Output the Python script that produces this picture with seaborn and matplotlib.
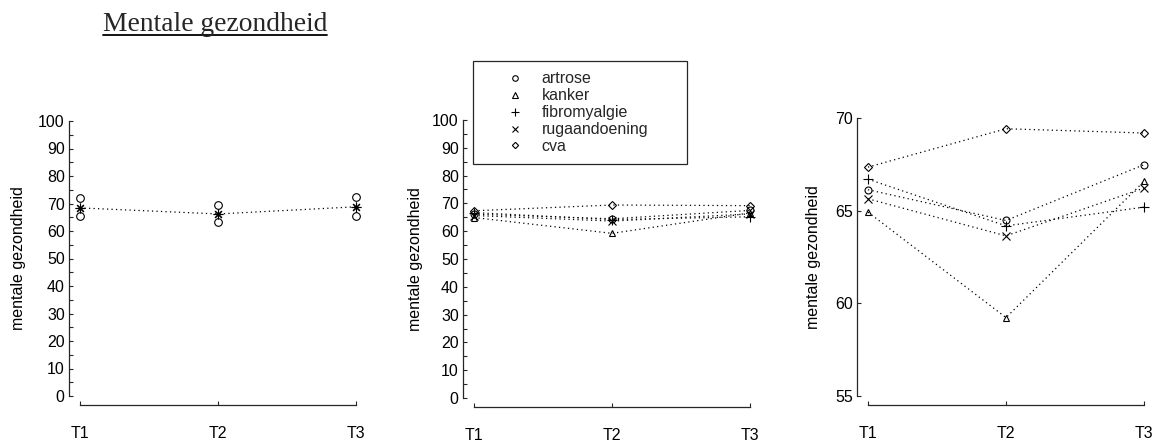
import matplotlib
matplotlib.use("Agg")
import matplotlib.pyplot as plt
import seaborn as sns
import pandas as pd
from matplotlib.lines import Line2D
from matplotlib.ticker import MultipleLocator

# meetmomenten en groepen
tijden = ["T1", "T2", "T3"]
groepen = ["artrose", "kanker", "fibromyalgie", "rugaandoening", "cva"]

artrose = [66.13, 64.47, 67.48]
kanker = [64.92, 59.23, 66.58]
fibromyalgie = [66.70, 64.18, 65.19]
rugaandoening = [65.64, 63.64, 66.22]
cva = [67.35, 69.42, 69.19]

# totale groep: gemiddelde met onder- en bovengrens
totaal_gem = [68.4, 66.2, 68.8]
totaal_onder = [65.6, 63.2, 65.6]
totaal_boven = [71.9, 69.4, 72.3]

markers = {"artrose": "o", "kanker": "^", "fibromyalgie": "+",
           "rugaandoening": "x", "cva": "D"}
msize = {"artrose": 5, "kanker": 5, "fibromyalgie": 6.5,
         "rugaandoening": 6.2, "cva": 4}

reeksen = [artrose, kanker, fibromyalgie, rugaandoening, cva]
df = pd.DataFrame([(g, t, v) for g, r in zip(groepen, reeksen) for t, v in zip(tijden, r)],
                  columns=["groep", "tijd", "score"])
df_tot = pd.DataFrame({"tijd": tijden, "gem": totaal_gem,
                       "onder": totaal_onder, "boven": totaal_boven})

sns.set_style("ticks")
plt.rcParams["font.family"] = ["Liberation Sans", "DejaVu Sans"]
donker = "#262626"

fig = plt.figure(figsize=(11.65, 4.41), dpi=100)
W, H = 1165, 441

def maak_as(x0, y_onder, y_boven):
    return fig.add_axes([x0 / W, (H - y_onder) / H, 276 / W, (y_onder - y_boven) / H])

ax1 = maak_as(80, 396, 121)
ax2 = maak_as(474, 398, 120)
ax3 = maak_as(868, 396, 118)

lijn = dict(color="k", linewidth=0.9, linestyle=(0, (1, 2.6)), clip_on=False)
mk = dict(markerfacecolor="none", markeredgecolor="k", markeredgewidth=0.8)

# paneel 1: totale groep
sns.lineplot(data=df_tot, x="tijd", y="gem", ax=ax1, marker=(8, 2, 0), markersize=7,
             errorbar=None, **lijn, **mk)
for kol in ["onder", "boven"]:
    sns.lineplot(data=df_tot, x="tijd", y=kol, ax=ax1, marker="o", markersize=5.5,
                 linestyle="", color="k", clip_on=False, errorbar=None, **mk)

# paneel 2 en 3: per aandoening
for ax in (ax2, ax3):
    for g in groepen:
        sns.lineplot(data=df[df["groep"] == g], x="tijd", y="score", ax=ax,
                     marker=markers[g], markersize=msize[g], errorbar=None,
                     **lijn, **mk)

for ax, ylim, ticks in [(ax1, (0, 100), range(0, 101, 10)),
                        (ax2, (0, 100), range(0, 101, 10)),
                        (ax3, (55, 70), [55, 60, 65, 70])]:
    ax.set_xlim(0, 2)
    ax.set_ylim(*ylim)
    ax.set_yticks(list(ticks))
    ax.set_xlabel("")
    ax.set_ylabel("mentale gezondheid", fontsize=11.5, color="k")
    ax.tick_params(axis="y", direction="in", length=3, width=0.8, pad=3,
                   labelsize=11.5, colors=donker, labelcolor="k")
    ax.tick_params(axis="x", direction="in", length=3, width=0.8, pad=15,
                   labelsize=11.5, colors=donker, labelcolor="k")
    sns.despine(ax=ax, offset=dict(left=8, bottom=6.5), trim=True)
    for s in ("left", "bottom"):
        ax.spines[s].set_color(donker)
        ax.spines[s].set_linewidth(0.9)

for ax in (ax1, ax2):
    ax.yaxis.set_minor_locator(MultipleLocator(5))
    ax.tick_params(axis="y", which="minor", direction="in", length=3, width=0.8, colors=donker)

ax1.yaxis.set_label_coords(-0.196, 0.5)
ax2.yaxis.set_label_coords(-0.185, 0.5)
ax3.yaxis.set_label_coords(-0.170, 0.5)

# legenda
handles = [Line2D([], [], linestyle="", marker=markers[g], markersize=msize[g] * 0.8,
                  markerfacecolor="none", markeredgecolor="k", markeredgewidth=0.8)
           for g in groepen]
ax2.legend(handles, groepen, loc="upper left", mode="expand",
           bbox_to_anchor=(473 / W, 1 - 164 / H, 214 / W, 103 / H),
           bbox_transform=fig.transFigure, borderaxespad=0, fontsize=11.5,
           handlelength=4.0, handletextpad=-0.35, borderpad=0.65, labelspacing=0.12,
           frameon=True, fancybox=False, edgecolor=donker, framealpha=1)
ax2.get_legend().get_frame().set_linewidth(0.9)

# titel met onderstreping
titel = fig.text(103 / W, 1 - 31 / H, "Mentale gezondheid", fontsize=19.8,
                 family=["Liberation Serif", "DejaVu Serif"], va="baseline", ha="left")
fig.canvas.draw()
bb = titel.get_window_extent()
fig.add_artist(Line2D([bb.x0 / W, bb.x1 / W], [1 - 35 / H, 1 - 35 / H],
                      transform=fig.transFigure, color="k", linewidth=1.3))

fig.savefig("out.png", dpi=100)
